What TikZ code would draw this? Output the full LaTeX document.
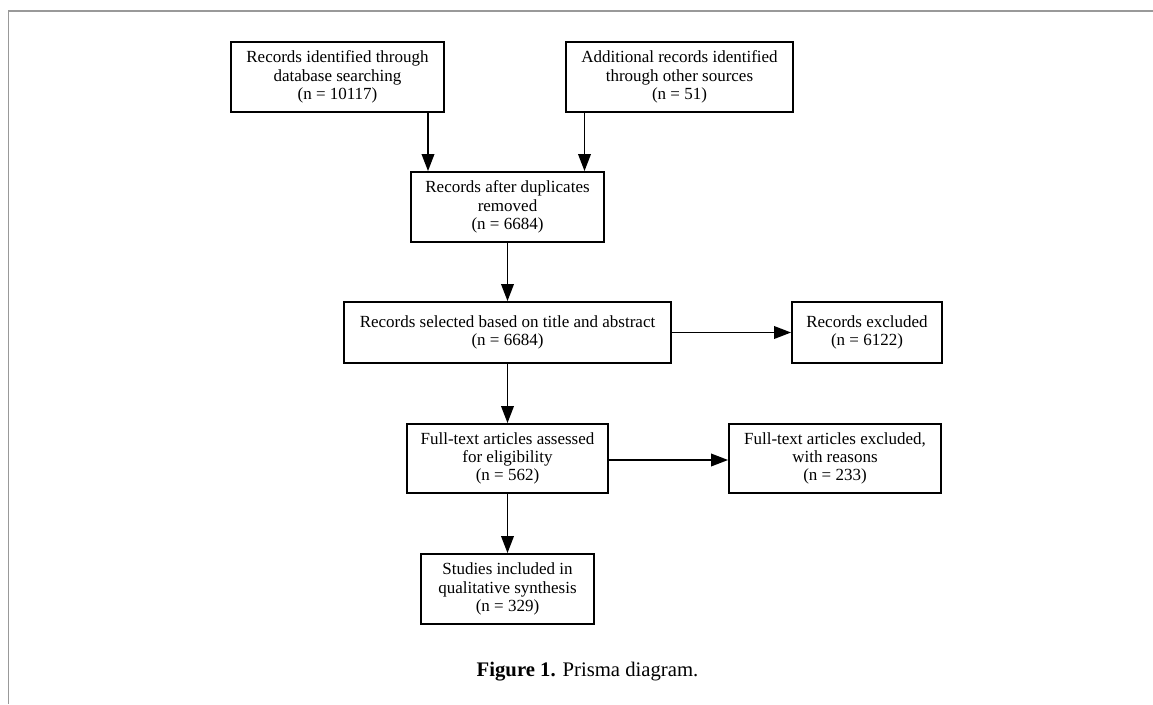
\documentclass[tikz,border=0pt]{standalone}
\usepackage{fontspec}
\setmainfont{Liberation Serif}
\usetikzlibrary{arrows.meta}
\begin{document}
\begin{tikzpicture}[x=1pt,y=-1pt,
  boxnode/.style={draw, line width=1.8pt, inner sep=0pt, align=center,
    font=\fontsize{17}{18.3}\selectfont},
  arr/.style={line width=1.9pt, -{Triangle[length=17pt,width=12.5pt]}},
  frameline/.style={draw=black!40, line width=1.3pt}]
\useasboundingbox (0,0) rectangle (1153,704);
\coordinate (tl) at (8.5,11);
\coordinate (tr) at (1153,11);
\coordinate (bl) at (8.5,704);
\draw[frameline] (tr) -- (tl) -- (bl);

\node[boxnode, minimum width=213pt, minimum height=70pt] (b1) at (337.5,77)
  {Records identified through\\database searching\\(n = 10117)};
\node[boxnode, minimum width=227pt, minimum height=70pt] (b2) at (679.5,77)
  {Additional records identified\\through other sources\\(n = 51)};
\node[boxnode, minimum width=193pt, minimum height=70pt] (b3) at (507.5,207)
  {Records after duplicates\\removed\\(n = 6684)};
\node[boxnode, minimum width=327pt, minimum height=61pt] (b4) at (507.5,332.5)
  {Records selected based on title and abstract\\(n = 6684)};
\node[boxnode, minimum width=150pt, minimum height=61pt] (b6) at (867,332.5)
  {Records excluded\\(n = 6122)};
\node[boxnode, minimum width=201pt, minimum height=69pt] (b5) at (507.5,458.5)
  {Full-text articles assessed\\for eligibility\\(n = 562)};
\node[boxnode, minimum width=212pt, minimum height=69pt] (b7) at (835,458.5)
  {Full-text articles excluded,\\with reasons\\(n = 233)};
\node[boxnode, minimum width=173pt, minimum height=70pt] (b8) at (507.5,589)
  {Studies included in\\qualitative synthesis\\(n = 329)};

\coordinate (xa) at (428,0);
\coordinate (xb) at (584.5,0);
\coordinate (yc) at (0,460);

\draw[arr] (b1.south -| xa) -- (b3.north -| xa);
\draw[arr] (b2.south -| xb) -- (b3.north -| xb);
\draw[arr] (b3) -- (b4);
\draw[arr] (b4) -- (b6);
\draw[arr] (b4) -- (b5);
\draw[arr] (b5.east |- yc) -- (b7.west |- yc);
\draw[arr] (b5) -- (b8);

\node[font=\fontsize{20.7}{24}\selectfont, inner sep=0pt] (cap) at (587.5,672)
  {\textbf{Figure 1.} Prisma diagram.};
\end{tikzpicture}
\end{document}
